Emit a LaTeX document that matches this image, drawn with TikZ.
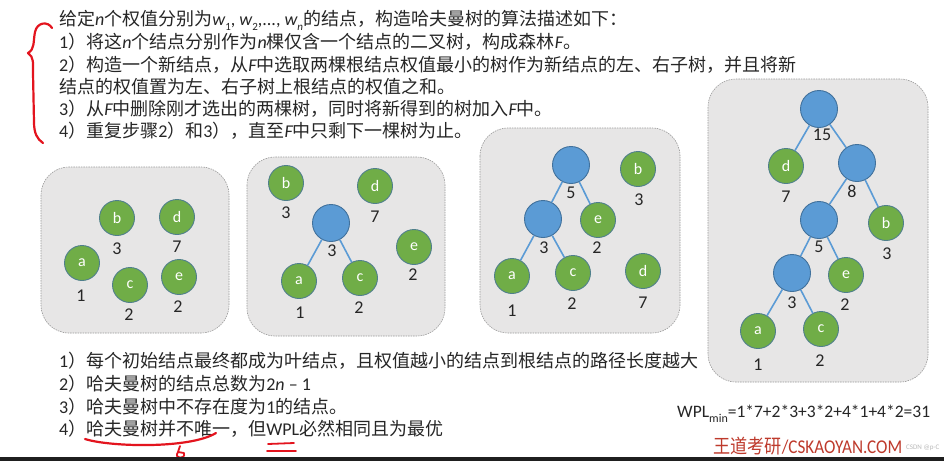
\documentclass[tikz,border=0pt]{standalone}
\usepackage{fontspec}
\setmainfont{Noto Sans CJK SC}
\newfontfamily\lat{Carlito}
\newcommand\LT[1]{{\lat #1}}
\newcommand\IT[1]{{\lat\itshape #1}}
\newcommand\subs[1]{\raisebox{-0.28em}{\fontsize{11}{11}\selectfont #1}}
\definecolor{txt}{HTML}{262626}
\definecolor{gfill}{HTML}{70AD47}
\definecolor{gline}{HTML}{4F7F8C}
\definecolor{bfill}{HTML}{5B9BD5}
\definecolor{bline}{HTML}{41719C}
\definecolor{panelbg}{HTML}{E7E6E6}
\definecolor{panelline}{HTML}{9A9A9A}
\definecolor{annot}{HTML}{E3141E}
\definecolor{logored}{HTML}{BE3A2C}
\tikzset{
  line/.style={anchor=base west, inner sep=0, text=txt, font=\fontsize{18}{22}\selectfont},
  leaf/.style={circle, minimum size=35pt, inner sep=0, fill=gfill, draw=gline, line width=0.9pt, text=white, font=\lat\fontsize{16}{16}\selectfont},
  inner/.style={circle, minimum size=37pt, inner sep=0, fill=bfill, draw=bline, line width=0.9pt},
  wt/.style={inner sep=0, text=txt, font=\lat\fontsize{18}{18}\selectfont},
  edge/.style={draw=bfill, line width=1.6pt},
  panel/.style={fill=panelbg, draw=panelline, dash pattern=on 1.5pt off 1pt, line width=0.6pt, rounded corners=28pt},
  redpen/.style={draw=annot, line width=2.2pt, line cap=round, line join=round}
}
\begin{document}
\begin{tikzpicture}[x=1pt,y=-1pt]
\useasboundingbox (0,0) rectangle (944,461);
\fill[white] (0,0) rectangle (944,461);

% top text
\node[line] (t1) at (59,25) {给定\IT{n}个权值分别为\IT{w}\subs{\LT{1}}\LT{, }\IT{w}\subs{\LT{2}}\LT{,..., }\IT{w}\subs{\IT{n}}的结点，构造哈夫曼树的算法描述如下：};
\node[line] (t2) at (59,48) {\LT{1}）将这\IT{n}个结点分别作为\IT{n}棵仅含一个结点的二叉树，构成森林\IT{F}。};
\node[line] (t3) at (59,71) {\LT{2}）构造一个新结点，从\IT{F}中选取两棵根结点权值最小的树作为新结点的左、右子树，并且将新};
\node[line] (t4) at (59,93) {结点的权值置为左、右子树上根结点的权值之和。};
\node[line] (t5) at (59,115) {\LT{3}）从\IT{F}中删除刚才选出的两棵树，同时将新得到的树加入\IT{F}中。};
\node[line] (t6) at (59,137) {\LT{4}）重复步骤\LT{2}）和\LT{3}），直至\IT{F}中只剩下一棵树为止。};

% panels
\draw[panel] (41,167) rectangle (229,333);
\draw[panel] (247,157) rectangle (445,336);
\draw[panel] (480,128) rectangle (680,333);
\draw[panel] (708,79) rectangle (928,382);

% box 1
\node[leaf] (a1) at (82,263) {a};
\node[leaf] (b1) at (117,218) {b};
\node[leaf] (c1) at (130,285) {c};
\node[leaf] (d1) at (177,217) {d};
\node[leaf] (e1) at (179,277) {e};
\node[wt] (la1) at (81,296) {1};
\node[wt] (lb1) at (117,249) {3};
\node[wt] (lc1) at (129,315) {2};
\node[wt] (ld1) at (177,247) {7};
\node[wt] (le1) at (178,307) {2};

% box 2
\node[leaf] (b2) at (286,183) {b};
\node[leaf] (d2) at (375,186) {d};
\node[inner] (n2) at (331,223) {};
\node[leaf] (a2) at (299,281) {a};
\node[leaf] (c2) at (360,278) {c};
\node[leaf] (e2) at (414,247) {e};
\node[wt] (lb2) at (286,213) {3};
\node[wt] (ld2) at (375,217) {7};
\node[wt] (ln2) at (332,251) {3};
\node[wt] (la2) at (300,313) {1};
\node[wt] (lc2) at (359,308) {2};
\node[wt] (le2) at (413,275) {2};
\draw[edge] (n2) -- (a2);
\draw[edge] (n2) -- (c2);

% box 3
\node[inner] (m5) at (571,165) {};
\node[inner] (m3) at (543,219) {};
\node[leaf] (e3) at (598,220) {e};
\node[leaf] (a3) at (512,276) {a};
\node[leaf] (c3) at (573,273) {c};
\node[leaf] (b3) at (638,169) {b};
\node[leaf] (d3) at (643,271) {d};
\node[wt] (lm5) at (571,193) {5};
\node[wt] (lm3) at (544,248) {3};
\node[wt] (le3) at (597,248) {2};
\node[wt] (la3) at (512,311) {1};
\node[wt] (lc3) at (572,304) {2};
\node[wt] (lb3) at (639,200) {3};
\node[wt] (ld3) at (643,303) {7};
\draw[edge] (m5) -- (m3);
\draw[edge] (m5) -- (e3);
\draw[edge] (m3) -- (a3);
\draw[edge] (m3) -- (c3);

% box 4
\node[inner] (r4) at (819,109) {};
\node[leaf] (d4) at (786,166) {d};
\node[inner] (k8) at (857,163) {};
\node[inner] (k5) at (819,220) {};
\node[leaf] (b4) at (886,223) {b};
\node[inner] (k3) at (792,273) {};
\node[leaf] (e4) at (846,275) {e};
\node[leaf] (a4) at (758,331) {a};
\node[leaf] (c4) at (821,329) {c};
\node[wt] (lr4) at (822,135) {15};
\node[wt] (ld4) at (786,197) {7};
\node[wt] (lk8) at (852,191) {8};
\node[wt] (lk5) at (819,247) {5};
\node[wt] (lb4) at (887,254) {3};
\node[wt] (lk3) at (792,303) {3};
\node[wt] (le4) at (845,305) {2};
\node[wt] (la4) at (758,365) {1};
\node[wt] (lc4) at (820,361) {2};
\draw[edge] (r4) -- (d4);
\draw[edge] (r4) -- (k8);
\draw[edge] (k8) -- (k5);
\draw[edge] (k8) -- (b4);
\draw[edge] (k5) -- (k3);
\draw[edge] (k5) -- (e4);
\draw[edge] (k3) -- (a4);
\draw[edge] (k3) -- (c4);

% bottom text
\node[line] (u1) at (59,367) {\LT{1}）每个初始结点最终都成为叶结点，且权值越小的结点到根结点的路径长度越大};
\node[line] (u2) at (59,390) {\LT{2}）哈夫曼树的结点总数为\LT{2}\IT{n}\LT{ – 1}};
\node[line] (u3) at (59,413) {\LT{3}）哈夫曼树中不存在度为\LT{1}的结点。};
\node[line] (u4) at (59,435) {\LT{4}）哈夫曼树并不唯一，但\LT{WPL}必然相同且为最优};

\node[anchor=base west, inner sep=0, text=txt, font=\lat\fontsize{17.5}{20}\selectfont] (wpl) at (677,417) {WPL\raisebox{-0.3em}{\fontsize{12}{12}\selectfont min}=1*7+2*3+3*2+4*1+4*2=31};

\node[anchor=base west, inner sep=0, text=logored] (logo) at (713,453) {\scalebox{0.88}[1]{\fontsize{19.5}{20}\selectfont 王道考研\lat /CSKAOYAN.COM}};
\node[anchor=base west, inner sep=0, text=gray!55, font=\lat\fontsize{7}{7}\selectfont] (wm) at (906,449) {CSDN @p-C};

% red annotations
\draw[redpen] (52,28) .. controls (48,21) and (37,22) .. (35,32) .. controls (33,42) and (35,49) .. (28,53) .. controls (34,57) and (33,63) .. (33,73) -- (34,122) .. controls (34,133) and (37,139) .. (43,143);
\draw[redpen] (85,439) .. controls (110,447) and (190,449) .. (216,433);
\draw[redpen, line width=1.8pt] (180,446) -- (178,452) .. controls (173,459) and (186,460) .. (184,453) -- (178,452);
\draw[redpen, line width=1.8pt] (268,444) -- (294,443);
\draw[redpen, line width=1.8pt] (267,451) -- (296,451);

% bottom dark strip
\fill[black!88] (0,457) rectangle (944,461);
\end{tikzpicture}
\end{document}
